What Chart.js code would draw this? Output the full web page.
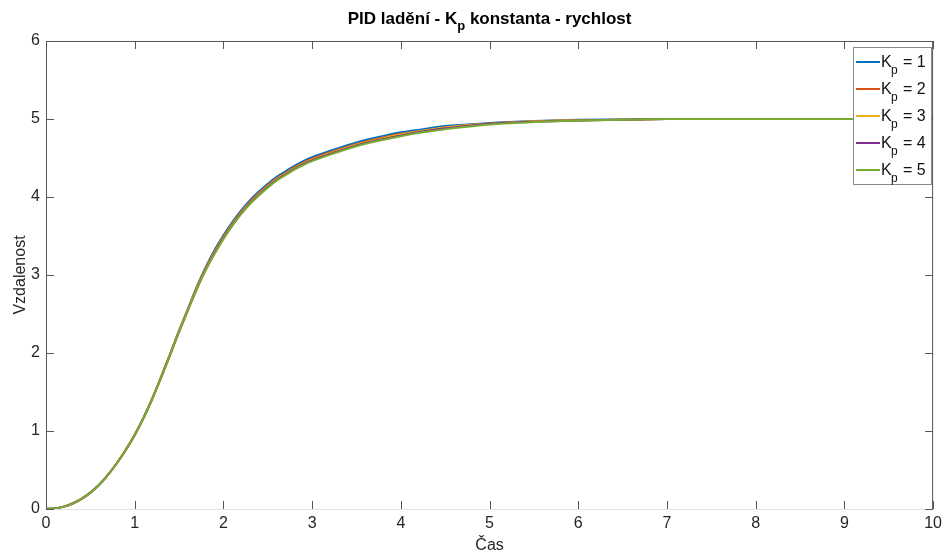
<!DOCTYPE html>
<html lang="cs">
<head>
<meta charset="UTF-8" />
<title>PID ladění - Kp konstanta - rychlost</title>
<script src="https://cdn.jsdelivr.net/npm/chart.js@4.4.1/dist/chart.umd.min.js"></script>
<style>
    html, body { margin: 0; padding: 0; background: #fff; }
    canvas { display: block; }
</style>
</head>
<body>
<canvas id="chart" width="947" height="556" style="width:947px;height:556px"></canvas>
<script>
// time axis (s)
const cas = [0, 0.1, 0.2, 0.3, 0.4, 0.5, 0.6, 0.7, 0.8, 0.9, 1, 1.1, 1.2, 1.3, 1.4, 1.5, 1.6, 1.7, 1.8, 1.9, 2,
    2.1, 2.2, 2.3, 2.4, 2.5, 2.6, 2.7, 2.8, 2.9, 3,
    3.25, 3.5, 3.75, 4, 4.25, 4.5, 4.75, 5, 5.5, 6, 6.5, 7, 7.5, 8, 8.5, 9, 9.5, 10];

// responses, one per Kp
const kp1 = [0, 0.008, 0.03, 0.07, 0.13, 0.21, 0.31, 0.44, 0.59, 0.76, 0.95, 1.17, 1.42, 1.70, 1.99, 2.29, 2.57, 2.85, 3.10, 3.32, 3.51,
    3.68, 3.83, 3.96, 4.07, 4.17, 4.26, 4.33, 4.40, 4.46, 4.51,
    4.61, 4.70, 4.77, 4.83, 4.87, 4.91, 4.93, 4.95, 4.975, 4.99, 4.995, 5, 5, 5, 5, 5, 5, 5];
const kp2 = [0, 0.008, 0.03, 0.07, 0.13, 0.21, 0.31, 0.44, 0.59, 0.76, 0.95, 1.17, 1.42, 1.70, 1.99, 2.28, 2.56, 2.84, 3.09, 3.30, 3.49,
    3.66, 3.81, 3.94, 4.05, 4.15, 4.24, 4.31, 4.38, 4.44, 4.49,
    4.59, 4.68, 4.75, 4.81, 4.85, 4.89, 4.92, 4.94, 4.97, 4.985, 4.99, 5, 5, 5, 5, 5, 5, 5];
const kp3 = [0, 0.008, 0.03, 0.07, 0.13, 0.21, 0.31, 0.44, 0.59, 0.76, 0.95, 1.17, 1.42, 1.70, 1.98, 2.28, 2.56, 2.83, 3.08, 3.29, 3.48,
    3.65, 3.80, 3.93, 4.04, 4.14, 4.23, 4.30, 4.37, 4.43, 4.48,
    4.58, 4.67, 4.74, 4.80, 4.85, 4.89, 4.92, 4.94, 4.97, 4.985, 4.99, 5, 5, 5, 5, 5, 5, 5];
const kp4 = [0, 0.008, 0.03, 0.07, 0.13, 0.21, 0.31, 0.44, 0.59, 0.76, 0.95, 1.17, 1.42, 1.69, 1.98, 2.27, 2.55, 2.82, 3.07, 3.28, 3.47,
    3.64, 3.79, 3.92, 4.03, 4.13, 4.22, 4.29, 4.36, 4.42, 4.47,
    4.57, 4.66, 4.73, 4.79, 4.84, 4.88, 4.91, 4.94, 4.965, 4.98, 4.99, 5, 5, 5, 5, 5, 5, 5];
const kp5 = [0, 0.008, 0.03, 0.07, 0.13, 0.21, 0.31, 0.44, 0.59, 0.76, 0.95, 1.17, 1.42, 1.69, 1.98, 2.27, 2.55, 2.82, 3.06, 3.27, 3.46,
    3.63, 3.78, 3.91, 4.02, 4.12, 4.21, 4.28, 4.35, 4.41, 4.46,
    4.56, 4.65, 4.72, 4.78, 4.83, 4.87, 4.90, 4.93, 4.96, 4.98, 4.99, 5, 5, 5, 5, 5, 5, 5];

const kpValues = ["1", "2", "3", "4", "5"];
const colors = ["#0072BD", "#D95319", "#EDB120", "#7E2F8E", "#77AC30"];
const xTicks = [0, 1, 2, 3, 4, 5, 6, 7, 8, 9, 10];
const yTicks = [0, 1, 2, 3, 4, 5, 6];

const FONT = "'Liberation Sans', Arial, sans-serif";
const series = [kp1, kp2, kp3, kp4, kp5];

function toPoints(ys) {
    return cas.map((t, i) => ({ x: t, y: ys[i] }));
}

// MATLAB-like box, inside ticks, title with subscript and the legend
const matlabDecor = {
    id: "matlabDecor",
    afterDraw(chart) {
        const ctx = chart.ctx;
        const a = chart.chartArea;
        const xs = chart.scales.x, ys = chart.scales.y;
        ctx.save();

        // box
        ctx.lineWidth = 1;
        ctx.strokeStyle = "#e2e2e2";
        ctx.beginPath();
        ctx.moveTo(a.left, a.bottom + 0.5);
        ctx.lineTo(a.right, a.bottom + 0.5);
        ctx.stroke();
        ctx.strokeStyle = "#555";
        ctx.beginPath();
        ctx.moveTo(a.left + 0.5, a.bottom);
        ctx.lineTo(a.left + 0.5, a.top + 0.5);
        ctx.lineTo(a.right - 0.5, a.top + 0.5);
        ctx.lineTo(a.right - 0.5, a.bottom);
        ctx.stroke();

        // ticks
        const tl = 8;
        ctx.beginPath();
        xTicks.forEach(v => {
            const px = Math.round(xs.getPixelForValue(v)) + 0.5;
            ctx.moveTo(px, a.bottom); ctx.lineTo(px, a.bottom - tl);
            ctx.moveTo(px, a.top); ctx.lineTo(px, a.top + tl);
        });
        yTicks.forEach(v => {
            const py = Math.round(ys.getPixelForValue(v)) + 0.5;
            ctx.moveTo(a.left, py); ctx.lineTo(a.left + tl, py);
            ctx.moveTo(a.right, py); ctx.lineTo(a.right - tl, py);
        });
        ctx.stroke();

        // title
        const parts = [["PID ladění - K", "bold 17px " + FONT, 0], ["p", "bold 13px " + FONT, 6], [" konstanta - rychlost", "bold 17px " + FONT, 0]];
        let w = 0;
        parts.forEach(p => { ctx.font = p[1]; w += ctx.measureText(p[0]).width; });
        let tx = (a.left + a.right) / 2 - w / 2;
        ctx.fillStyle = "#000";
        ctx.textBaseline = "alphabetic";
        ctx.textAlign = "left";
        parts.forEach(p => {
            ctx.font = p[1];
            ctx.fillText(p[0], tx, 24 + p[2]);
            tx += ctx.measureText(p[0]).width;
        });

        // legend
        const lx = 853, ly = 47, lw = 78, lh = 137;
        ctx.fillStyle = "#fff";
        ctx.fillRect(lx, ly, lw, lh);
        ctx.lineWidth = 1;
        ctx.strokeStyle = "#8a8a8a";
        ctx.strokeRect(lx + 0.5, ly + 0.5, lw, lh);
        kpValues.forEach((k, i) => {
            const y = 62 + i * 27;
            ctx.strokeStyle = colors[i];
            ctx.lineWidth = 2;
            ctx.beginPath();
            ctx.moveTo(856, y); ctx.lineTo(880, y);
            ctx.stroke();
            ctx.fillStyle = "#111";
            ctx.font = "16px " + FONT;
            ctx.fillText("K", 881, y + 5);
            ctx.font = "12px " + FONT;
            ctx.fillText("p", 891, y + 12);
            ctx.font = "16px " + FONT;
            ctx.fillText("= " + k, 903, y + 5);
        });
        ctx.restore();
    }
};

new Chart("chart", {
    type: "line",
    data: {
        datasets: series.map((ys, i) => ({
            label: "Kp = " + kpValues[i],
            data: toPoints(ys),
            borderColor: colors[i],
            backgroundColor: colors[i],
            borderWidth: 2,
            pointRadius: 0,
            order: series.length - i, // green ends up on top, like the original
            cubicInterpolationMode: "monotone",
            fill: false
        }))
    },
    options: {
        responsive: false,
        animation: false,
        devicePixelRatio: 1,
        layout: { padding: { left: 0, right: 12, top: 41, bottom: 0 } },
        plugins: {
            legend: { display: false },
            title: { display: false },
            tooltip: { enabled: false }
        },
        scales: {
            x: {
                type: "linear",
                min: 0,
                max: 10,
                afterBuildTicks: s => { s.ticks = xTicks.map(v => ({ value: v })); },
                afterFit: s => { s.height = 47; },
                grid: { display: false, drawTicks: false },
                border: { display: false },
                ticks: { color: "#262626", font: { family: FONT, size: 16 }, padding: 5, maxRotation: 0 },
                title: { display: true, text: "Čas", color: "#262626", font: { family: FONT, size: 16 }, padding: { top: 0, bottom: 1 } }
            },
            y: {
                min: 0,
                max: 6,
                afterBuildTicks: s => { s.ticks = yTicks.map(v => ({ value: v })); },
                afterFit: s => { s.width = 46; },
                grid: { display: false, drawTicks: false },
                border: { display: false },
                ticks: { color: "#262626", font: { family: FONT, size: 16 }, padding: 6 },
                title: { display: true, text: "Vzdalenost", color: "#262626", font: { family: FONT, size: 16 }, padding: { top: 11, bottom: 0 } }
            }
        }
    },
    plugins: [matlabDecor]
});
</script>
</body>
</html>
